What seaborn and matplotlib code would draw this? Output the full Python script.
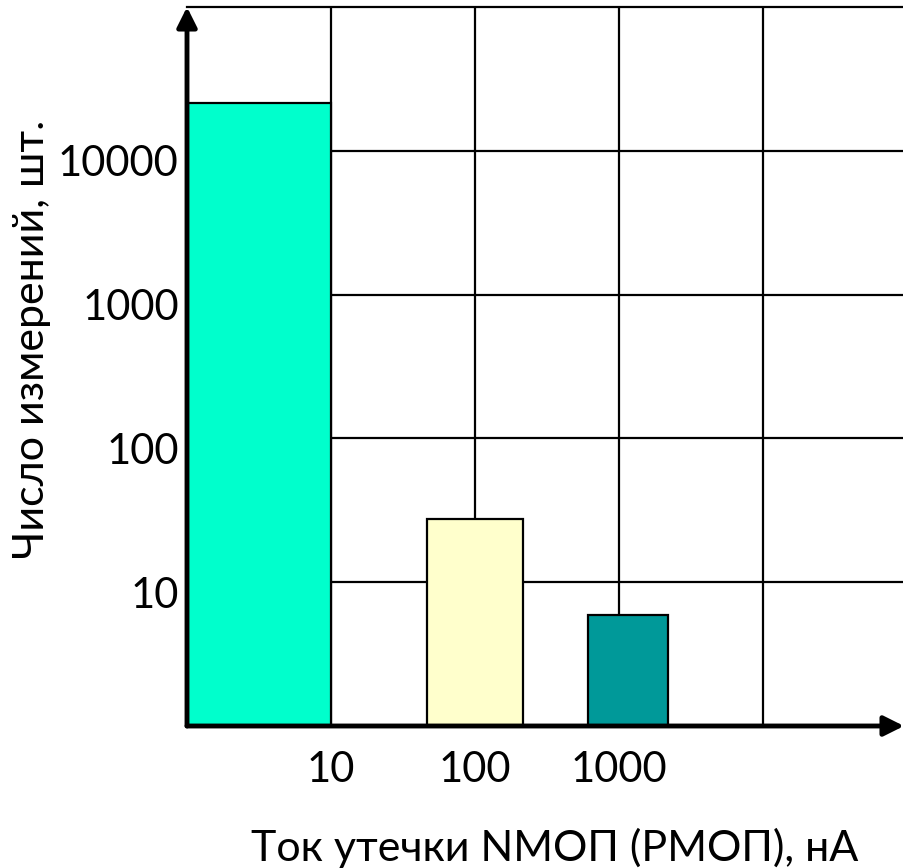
import matplotlib
matplotlib.use("Agg")
import matplotlib.pyplot as plt
import matplotlib.transforms as mtransforms
import seaborn as sns
import pandas as pd

# ---- data ----
bar_labels = ["<10", "10-100", "100-1000"]
bar_centers = [0.5, 2.0, 3.06]
bar_widths = [1.0, 0.667, 0.556]
counts = [21600, 27.6, 5.9]
bar_colors = ["#00FFCC", "#FFFFCC", "#009999"]
x_tick_labels = ["10", "100", "1000"]
y_tick_values = [10, 100, 1000, 10000]
y_tick_labels = ["10", "100", "1000", "10000"]
x_title = "Ток утечки NMOП (PMOП), нA"
y_title = "Число измерений, шт."

sns.set_theme(style="white")
plt.rcParams["font.family"] = ["Lato", "DejaVu Sans"]

fig = plt.figure(figsize=(9.04, 8.68), dpi=100)
ax = fig.add_axes([187 / 904, 142 / 868, 720 / 904, 719 / 868])

df = pd.DataFrame({"pos": bar_centers, "count": counts, "cat": bar_labels})
ax.set_yscale("log")
sns.barplot(data=df, x="pos", y="count", hue="cat", hue_order=bar_labels,
            palette=bar_colors, saturation=1, native_scale=True,
            edgecolor="black", linewidth=1.6, legend=False, ax=ax, zorder=2)
for p, c, w in zip(ax.patches, bar_centers, bar_widths):
    p.set_x(c - w / 2)
    p.set_width(w)
    p.set_alpha(1)

ax.set_xlim(0, 5)
ax.set_ylim(1, 1e5)
ax.set_xticks([1, 2, 3, 4])
ax.set_xticklabels(x_tick_labels + [""])
ax.set_yticks(y_tick_values)
ax.set_yticklabels(y_tick_labels)
ax.minorticks_off()
ax.tick_params(axis="both", length=0, labelsize=30, colors="black")
ax.tick_params(axis="x", pad=18)
ax.tick_params(axis="y", pad=6)
ax.grid(True, which="major", color="black", linewidth=1.6, zorder=0)
ax.set_axisbelow(True)

offset = mtransforms.ScaledTranslation(0, -10 / 100, fig.dpi_scale_trans)
for lab in ax.get_yticklabels():
    lab.set_transform(lab.get_transform() + offset)

for s in ["left", "bottom", "right"]:
    ax.spines[s].set_visible(False)
ax.spines["top"].set_color("black")
ax.spines["top"].set_linewidth(1.6)

# axis arrows
ax.annotate("", xy=(0, 1.0), xytext=(0, 0), xycoords="axes fraction",
            arrowprops=dict(arrowstyle="-|>", color="black", lw=3.5,
                            mutation_scale=30, shrinkA=0, shrinkB=0),
            annotation_clip=False)
ax.annotate("", xy=(717 / 720, 0), xytext=(0, 0), xycoords="axes fraction",
            arrowprops=dict(arrowstyle="-|>", color="black", lw=3.5,
                            mutation_scale=30, shrinkA=0, shrinkB=0),
            annotation_clip=False)

ax.set_xlabel(x_title, fontsize=31, color="black")
ax.xaxis.set_label_coords((555 - 187) / 720, (726 - 861) / 719)
ax.xaxis.label.set_verticalalignment("baseline")
ax.set_ylabel(y_title, fontsize=31, color="black")
ax.yaxis.set_label_coords((32 - 187) / 720, (726 - 339) / 719)
ax.yaxis.label.set_verticalalignment("center")

fig.savefig("out.png", dpi=100)
